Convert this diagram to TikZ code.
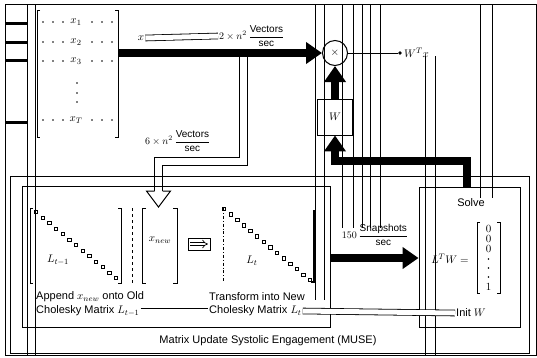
\documentclass[tikz,border=0pt]{standalone}
\usepackage{fontspec}
\setmainfont{Liberation Sans}
\usepackage{amsmath}
\usetikzlibrary{arrows.meta,calc}
\begin{document}
\begin{tikzpicture}[x=1pt,y=-1pt,
  every node/.style={inner sep=1pt,font=\fontsize{11}{13}\selectfont},
  thinline/.style={line width=0.8pt},
  stray/.style={line width=0.9pt},
  bigarrow/.style={line width=8pt,line join=miter,-{Triangle[length=16pt,width=21pt]}},
  dline/.style={line width=0.8pt,double=white,double distance=5pt},
  sq/.style={draw,line width=0.6pt,minimum size=3.4pt,inner sep=0pt},
  box/.style={draw,line width=0.9pt,inner sep=0pt},
  lbl/.style={font=\fontsize{10}{12}\selectfont}
  ]
\useasboundingbox (0,0) rectangle (537,357);
% frame and stray lines of the reference
\draw[stray] (5,4) rectangle (536,355);
\foreach \x in {27,35} \draw[stray] (\x,4) -- (\x,355);
\foreach \x in {315,324} \draw[stray] (\x,4) -- (\x,300);
\foreach \x in {342,353,362,370,380} \draw[stray] (\x,4) -- (\x,228);
\foreach \x in {425,435} \draw[stray] (\x,56) -- (\x,355);
\foreach \x in {480,492} \draw[stray] (\x,4) -- (\x,198);
\foreach \y in {23,42,60,122} \draw[line width=3pt] (5,\y) -- (27,\y);

% data matrix X
\draw[thinline] (40,10) -- (37,10) -- (37,137) -- (40,137);
\draw[thinline] (115,10) -- (118,10) -- (118,137) -- (115,137);
\foreach \y/\t/\n in {22/1/xa,42/2/xb,61/3/xc,120/T/xd}{
  \node (\n) at (76,\y) {$x_{\t}$};
  \foreach \x in {43,53,63,92,102,112} \fill (\x,\y) circle (0.8pt);
}
\foreach \y in {83,93,102} \fill (77,\y) circle (0.8pt);
\coordinate (Xout) at (119,53);

% multiplier, W box
\node[draw,circle,line width=1pt,minimum size=25pt,inner sep=0pt] (mul) at (335,53) {$\times$};
\node[box,minimum width=35pt,minimum height=36pt] (Wbox) at (335,117) {$W$};
\node[fill,circle,inner sep=1.4pt] (odot) at (400,53) {};
\node[anchor=west] (wtx) at (403,53) {$W^T x$};
\draw[thinline] (mul.east) -- (odot);

% hollow arrow down to Cholesky block
\draw[line width=1pt,double=white,double distance=7pt] (243,57) -- (243,161.5) -- (158.5,161.5) -- (158.5,191.5);
\draw[line width=1pt,fill=white] (154.5,191) -- (146.5,191) -- (158.5,207) -- (170.5,191) -- (162.5,191);

% top thick arrow
\draw[bigarrow] (Xout) -- (mul.west);
\node (xlab) at (141,38) {$x$};
\node[anchor=west,lbl] (rate1) at (218,36) {$2\times n^2\,\dfrac{\text{Vectors}}{\text{sec}}$};
\draw[dline] (xlab.east) -- (rate1.west);
\node[anchor=west,lbl] (rate2) at (144,141) {$6\times n^2\,\dfrac{\text{Vectors}}{\text{sec}}$};

% W -> multiplier
\draw[bigarrow] (Wbox.north) -- (mul.south);

% system boxes
\node[box,minimum width=519pt,minimum height=177pt] (muse) at (269.5,264.5) {};
\node[box,minimum width=308pt,minimum height=141pt] (chol) at (176,256.5) {};
\node[box,minimum width=101pt,minimum height=140pt] (sbox) at (469.5,257) {};
\node (muselbl) at (268,341) {Matrix Update Systolic Engagement (MUSE)};

% feedback to W
\draw[bigarrow] ($(sbox.north)+(-3,0)$) -- (466.5,161) -- (335,161) -- (Wbox.south);

% L_{t-1}
\draw[thinline] (33,208) -- (30,208) -- (30,283) -- (33,283);
\draw[thinline] (118,208) -- (121,208) -- (121,283) -- (118,283);
\foreach \i in {0,...,12} \node[sq] at ($(36,212)!\i/12!(116,278)$) {};
\node (Lold) at (58,260) {$L_{t-1}$};
\draw[thinline,dashed] (132,208) -- (132,285);
% x_new
\draw[thinline] (146,208) -- (142,208) -- (142,283) -- (146,283);
\draw[thinline] (173,208) -- (177,208) -- (177,283) -- (173,283);
\node (xnew) at (160,240) {$x_{new}$};
\node[draw,line width=0.8pt,minimum width=22pt,minimum height=12pt] (impl) at (199,244) {};
\draw[line width=0.7pt,double,double distance=2.2pt,-{Implies}] ($(impl.west)+(2.5,0)$) -- ($(impl.east)+(-2.5,0)$);
% L_t
\draw[thinline,dash dot] (223,208) -- (223,283);
\foreach \i in {0,...,13} \node[sq] at ($(224,209)!\i/13!(310,280)$) {};
\draw[line width=1.5pt] (314,210) -- (314,282) -- (311,282);
\node (Lnew) at (252,261) {$L_t$};

\node[anchor=west] (app1) at (35,297) {Append $x_{new}$ onto Old};
\node[anchor=west] (app2) at (35,311) {Cholesky Matrix $L_{t-1}$};
\node[anchor=west] (tr1) at (208,297) {Transform into New};
\node[anchor=west] (tr2) at (208,311) {Cholesky Matrix $L_t$};

% rate arrow into solver
\draw[bigarrow] (chol.east |- 0,258) -- (sbox.west |- 0,258);
\node[lbl] (rate3) at (375,235) {$150\,\dfrac{\text{Snapshots}}{\text{sec}}$};

% solver
\node (solvelbl) at (471,203) {Solve};
\node (eq) at (450,259) {$L^T W =$};
\draw[thinline] (480,222) -- (477,222) -- (477,293) -- (480,293);
\draw[thinline] (497,222) -- (500,222) -- (500,293) -- (497,293);
\node (c1) at (488.5,229) {$0$};
\node (c2) at (488.5,239) {$0$};
\node (c3) at (488.5,249) {$0$};
\foreach \y in {259,268,277} \fill (488.5,\y) circle (0.8pt);
\node (c4) at (488.5,287) {$1$};
\node (init) at (471,313) {Init $W$};

\draw[dline] (app2.east) -- (tr2.west);
\draw[dline] (tr2.east) -- (init.west);
\end{tikzpicture}
\end{document}
